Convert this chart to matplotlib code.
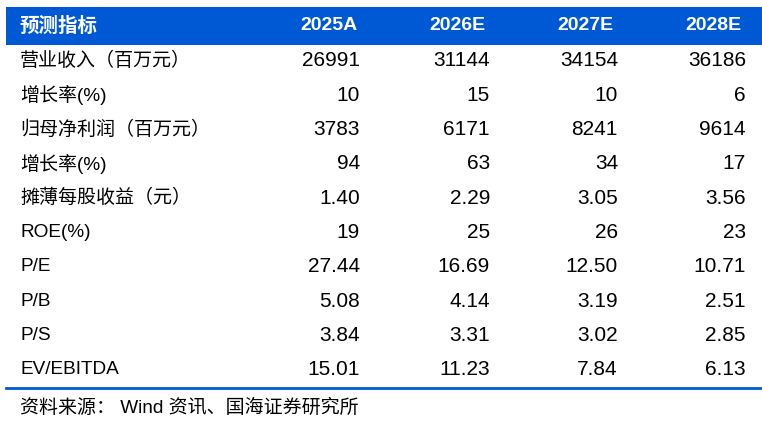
import matplotlib
matplotlib.use('Agg')
from matplotlib import pyplot as plt

plt.rcParams['font.family'] = ['Liberation Sans', 'Noto Sans CJK SC', 'DejaVu Sans']

header = ['预测指标', '2025A', '2026E', '2027E', '2028E']
row_labels = ['营业收入（百万元）', '增长率(%)', '归母净利润（百万元）', '增长率(%)',
              '摊薄每股收益（元）', 'ROE(%)', 'P/E', 'P/B', 'P/S', 'EV/EBITDA']
values_2025a = ['26991', '10', '3783', '94', '1.40', '19', '27.44', '5.08', '3.84', '15.01']
values_2026e = ['31144', '15', '6171', '63', '2.29', '25', '16.69', '4.14', '3.31', '11.23']
values_2027e = ['34154', '10', '8241', '34', '3.05', '26', '12.50', '3.19', '3.02', '7.84']
values_2028e = ['36186', '6', '9614', '17', '3.56', '23', '10.71', '2.51', '2.85', '6.13']
source = '资料来源： Wind 资讯、国海证券研究所'

blue = '#0059D4'


def main():
    fig = plt.figure(figsize=(7.62, 4.29), dpi=100)
    ax = fig.add_axes([0, 0, 1, 1])
    ax.set_xlim(0, 762)
    ax.set_ylim(429, 0)
    ax.axis('off')

    # header band
    ax.add_patch(plt.Rectangle((6, 7), 756, 38, color=blue, lw=0))
    head_right = [358, 486, 613, 742]
    ax.text(20, 26, header[0], color='white', fontsize=14, fontweight='bold',
            va='center', ha='left')
    for x, h in zip(head_right, header[1:]):
        ax.text(x, 26, h, color='white', fontsize=14, fontweight='bold',
                va='center', ha='right')

    columns = [values_2025a, values_2026e, values_2027e, values_2028e]
    col_right = [360, 490, 618, 746]
    y0, dy = 61, 34.3
    for i, lab in enumerate(row_labels):
        y = y0 + i * dy
        ax.text(20, y, lab, fontsize=13.7, va='center', ha='left', color='black')
        for x, col in zip(col_right, columns):
            ax.text(x, y, col[i], fontsize=15, va='center', ha='right', color='black')

    ax.plot([6, 762], [388, 388], color=blue, lw=2)
    ax.text(20, 408, source, fontsize=13.7, va='center', ha='left', color='black')

    fig.savefig('out.png', dpi=100)


if __name__ == "__main__":
    main()
